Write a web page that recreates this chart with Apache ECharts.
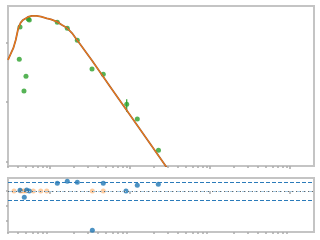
<!DOCTYPE html>
<html><head><meta charset="utf-8">
<script src="https://cdn.jsdelivr.net/npm/echarts@6/dist/echarts.min.js"></script>
<style>html,body{margin:0;padding:0;background:#fff}#c{width:320px;height:240px}</style>
</head><body><div id="c"></div>
<script>
// Model SED (wavelength, flux)
var modelX = [0.2985,0.332,0.348,0.373,0.401,0.430,0.460,0.487,0.531,0.591,0.682,0.772,0.910,1.029,1.213,1.413,1.617,1.884,2.175,2.371,3.350,5.623,10,17.78,27.38,31.62];
var modelY = [5.08,7.00,8.00,11.0,17.3,21.5,23.9,24.8,26.8,27.9,27.9,27.1,25.5,24.4,22.4,19.7,17.7,14.4,11.0,9.44,4.98,1.82,0.605,0.201,0.0873,0.0653];
// Observations
var obsX = [0.413,0.422,0.473,0.501,0.535,0.551,1.234,1.645,2.194,3.350,4.634,9.098,12.33,22.70];
var obsY = [5.22,18.2,1.53,2.70,24.8,23.9,21.8,17.3,10.9,3.59,2.92,0.915,0.518,0.154];
var obsErrLo = [null,null,null,null,null,null,null,null,null,null,null,0.687,null,null];
var obsErrHi = [null,null,null,null,null,null,null,null,null,null,null,1.11,null,null];
// Residuals
var resX = [0.422,0.511,0.551,0.477,1.234,1.645,2.194,4.634,8.913,12.33,22.58,3.381];
var resY = [0.047,0.067,0,-0.42,0.513,0.647,0.58,0.513,0,0.38,0.447,-2.62];
var res2X = [0.355,0.430,0.464,0.501,0.618,0.765,0.910,3.381,4.634];
var res2Y = [0,0,0,0,0,0,0,0,0];
var majorTicksX = [1,10,100,1000];
var minorTicksX = [0.3,0.4,0.5,0.6,0.7,0.8,0.9,2,3,4,5,6,7,8,9,20,30,40,50,60,70,80,90,200,300,400,500,600,700,800,900,2000];
var topTicksY = [0.1,1,10];
var resTicksY = [-2,-1,0];
var resBand = 0.6;

function zip(a,b){return a.map(function(v,i){return [v,b[i]];});}
var gray='#c4c4c4', tickGray='#aaaaaa';
function xAx(gi, ticks, len){
  return {type:'log', logBase:10, gridIndex:gi, position:'bottom', offset:0, min:0.2985, max:1995,
    axisLine:{show:false}, splitLine:{show:false}, axisLabel:{show:false},
    axisTick:{show:true, customValues:ticks, length:len, lineStyle:{color:tickGray,width:1.5}}};
}
var chart = echarts.init(document.getElementById('c'));
var errData = [];
obsX.forEach(function(x,i){ if(obsErrLo[i]!=null) errData.push([x,obsErrLo[i],obsErrHi[i]]); });
chart.setOption({
  animation:false,
  grid:[
    {left:8,right:6,top:6,height:160,show:true,borderColor:gray,borderWidth:2,backgroundColor:'#fff'},
    {left:8,right:6,top:178,height:54,show:true,borderColor:gray,borderWidth:2,backgroundColor:'#fff'}
  ],
  xAxis:[ xAx(0,majorTicksX,3), xAx(0,minorTicksX,2), xAx(1,majorTicksX,3), xAx(1,minorTicksX,2) ],
  yAxis:[
    {type:'log',logBase:10,gridIndex:0,position:'left',min:0.084,max:41,axisLine:{show:false},splitLine:{show:false},axisLabel:{show:false},
     axisTick:{customValues:topTicksY,length:2,lineStyle:{color:tickGray,width:1.5}}},
    {type:'value',gridIndex:1,position:'left',min:-2.733,max:0.867,axisLine:{show:false},splitLine:{show:false},axisLabel:{show:false},
     axisTick:{customValues:resTicksY,length:2,lineStyle:{color:tickGray,width:1.5}}}
  ],
  series:[
    {type:'line',xAxisIndex:0,yAxisIndex:0,data:zip(modelX,modelY),showSymbol:false,symbol:'none',
     lineStyle:{color:'#a0613a',width:1.8}},
    {type:'line',xAxisIndex:0,yAxisIndex:0,data:zip(modelX,modelY),showSymbol:false,symbol:'none',
     lineStyle:{color:'#ff7f0e',width:0.9}},
    {type:'custom',xAxisIndex:0,yAxisIndex:0,data:errData,
     renderItem:function(p,api){var a=api.coord([api.value(0),api.value(1)]),b=api.coord([api.value(0),api.value(2)]);
       return {type:'line',shape:{x1:a[0],y1:a[1],x2:b[0],y2:b[1]},style:{stroke:'#2ca02c',lineWidth:1.2}};}},
    {type:'scatter',xAxisIndex:0,yAxisIndex:0,data:zip(obsX,obsY),symbolSize:5,
     itemStyle:{color:'#2ca02c'}},
    {type:'line',xAxisIndex:2,yAxisIndex:1,data:[],
     markLine:{silent:true,symbol:'none',label:{show:false},animation:false,
       data:[{yAxis:resBand,lineStyle:{color:'#2b7bba',type:[4,2],width:1.2}},
             {yAxis:-resBand,lineStyle:{color:'#2b7bba',type:[4,2],width:1.2}},
             {yAxis:0,lineStyle:{color:'#a9cbe3',type:[4,2],width:1}}]}},
    {type:'line',xAxisIndex:2,yAxisIndex:1,data:[],
     markLine:{silent:true,symbol:'none',label:{show:false},animation:false,
       data:[{yAxis:0,lineStyle:{color:'#666',type:[1,3],width:1}}]}},
    {type:'scatter',xAxisIndex:2,yAxisIndex:1,data:zip(res2X,res2Y),symbolSize:5,
     itemStyle:{color:'rgba(255,127,14,0.5)'}},
    {type:'scatter',xAxisIndex:2,yAxisIndex:1,data:zip(resX,resY),symbolSize:5,
     itemStyle:{color:'#1f77b4'}}
  ]
});
</script></body></html>
